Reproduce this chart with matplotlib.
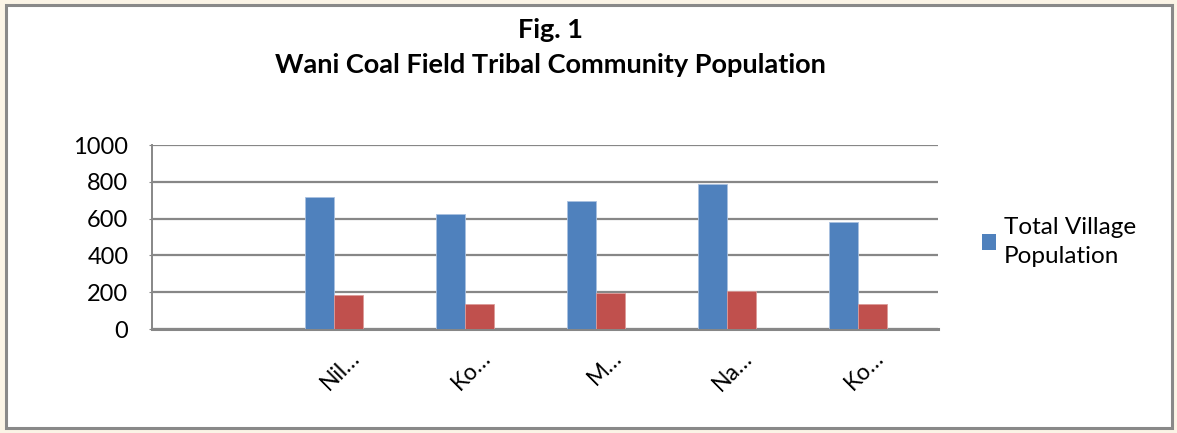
import matplotlib
matplotlib.use("Agg")
import matplotlib.pyplot as plt
import numpy as np
from matplotlib.patches import Rectangle, Patch

categories = ["", "Nil…", "Ko…", "M…", "Na…", "Ko…"]
total_population = [0, 719, 623, 694, 788, 580]
tribal_population = [0, 185, 134, 197, 205, 134]
series_names = ["Total Village\nPopulation", "Tribal Population"]
yticks = [0, 200, 400, 600, 800, 1000]

BLUE = "#4F81BD"
RED = "#C0504D"
GRID = "#878787"

plt.rcParams["font.family"] = ["Lato", "DejaVu Sans"]

fig = plt.figure(figsize=(11.77, 4.33), dpi=100)
fig.patch.set_facecolor("#fbf4e6")
fig.patches.append(Rectangle((6 / 1177, 1 - 428 / 433), 1166 / 1177, 423 / 433,
                             transform=fig.transFigure, facecolor="white",
                             edgecolor="#898989", linewidth=2.2, zorder=-5))

ax = fig.add_axes([152 / 1177, 1 - 329 / 433, 786 / 1177, 184 / 433])
ax.set_zorder(2)
ax.set_facecolor("none")

x = np.arange(len(categories))
n_series = 3  # the source chart reserves room for a third, empty series
width = 1 / (n_series + 1.5)
ax.bar(x - width, total_population, width, color=BLUE, edgecolor="#a9c1e0",
       linewidth=0.6, zorder=3, label=series_names[0])
ax.bar(x, tribal_population, width, color=RED, edgecolor="#dc9a98",
       linewidth=0.6, zorder=3)

ax.set_xlim(-0.5, len(categories) - 0.5)
ax.set_ylim(0, 1000)
ax.set_yticks(yticks)
ax.yaxis.grid(True, color=GRID, linewidth=1.6, zorder=0)
ax.set_axisbelow(True)

for side in ["top", "right"]:
    ax.spines[side].set_visible(False)
ax.spines["left"].set_color(GRID)
ax.spines["left"].set_linewidth(1.4)
ax.spines["bottom"].set_color(GRID)
ax.spines["bottom"].set_linewidth(2.2)

ax.tick_params(axis="y", length=2, color=GRID, labelsize=17, pad=15)
ax.tick_params(axis="x", length=0, labelsize=16.5, pad=13)
ax.set_xticks(x)
ax.set_xticklabels(categories, rotation=45, ha="right", rotation_mode="anchor")

fig.text(550 / 1177, 1 - 30 / 433, "Fig. 1", ha="center", va="center",
         fontsize=19.5, fontweight="bold")
fig.text(550 / 1177, 1 - 65 / 433, "Wani Coal Field Tribal Community Population",
         ha="center", va="center", fontsize=19.5, fontweight="bold")

handles = [Patch(facecolor=BLUE, edgecolor="none")]
leg = fig.legend(handles, [series_names[0]], loc="upper left",
                 bbox_to_anchor=(972 / 1177, 1 - 207 / 433), frameon=False,
                 fontsize=17.5, handlelength=0.6, handleheight=0.6, handletextpad=0.3,
                 borderaxespad=0)
for t in leg.get_texts():
    t.set_linespacing(1.5)

fig.savefig("out.png", dpi=100, facecolor=fig.get_facecolor())
